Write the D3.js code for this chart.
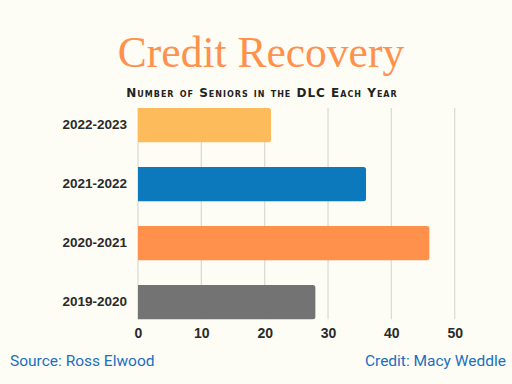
<!DOCTYPE html>
<html>
<head>
<meta charset="utf-8">
<script src="https://cdn.jsdelivr.net/npm/d3@7"></script>
<style>
  body { margin: 0; background: #fdfdf5; }
  svg { display: block; }
</style>
</head>
<body>
<script>
var years = ['2022-2023', '2021-2022', '2020-2021', '2019-2020'];
var seniors = [21, 36, 46, 28];
var barColors = ['#febb5b', '#0c79bc', '#ff914d', '#737373'];
var xTicks = [0, 10, 20, 30, 40, 50];

var svg = d3.select('body')
    .append('svg')
    .attr('width', 512)
    .attr('height', 384);

svg.append('rect')
    .attr('width', 512)
    .attr('height', 384)
    .attr('fill', '#fdfdf5');

svg.append('text')
    .attr('x', 261)
    .attr('y', 67)
    .attr('text-anchor', 'middle')
    .attr('font-family', 'Liberation Serif, serif')
    .attr('font-size', '43.5px')
    .attr('fill', '#ff914d')
    .text('Credit Recovery');

svg.append('text')
    .attr('x', 262)
    .attr('y', 96.5)
    .attr('text-anchor', 'middle')
    .attr('font-family', 'DejaVu Sans, sans-serif')
    .attr('font-size', '12px')
    .attr('font-weight', 'bold')
    .attr('font-variant', 'small-caps')
    .attr('letter-spacing', '1px')
    .attr('fill', '#222')
    .text('Number of Seniors in the DLC Each Year');

var xScale = d3.scaleLinear().domain([0, 50]).range([138, 454.7]);
var yScale = d3.scaleBand().domain(years).range([83.2, 344]).padding(0.42);

var gridTop = yScale(years[0]);
var gridBottom = yScale(years[years.length - 1]) + yScale.bandwidth();

// gridlines
svg.append('g')
    .selectAll('line')
    .data(xTicks)
    .enter()
    .append('line')
    .attr('x1', function (d) { return xScale(d); })
    .attr('x2', function (d) { return xScale(d); })
    .attr('y1', gridTop)
    .attr('y2', gridBottom)
    .attr('stroke', '#dcdcd6')
    .attr('stroke-width', 1.3);

// bars
svg.append('g')
    .selectAll('path')
    .data(years)
    .enter()
    .append('path')
    .attr('fill', function (d, i) { return barColors[i]; })
    .attr('d', function (d, i) {
        var x0 = xScale(0), x1 = xScale(seniors[i]);
        var y0 = yScale(d), h = yScale.bandwidth(), r = 2.5;
        return 'M' + x0 + ',' + y0 +
            'H' + (x1 - r) +
            'Q' + x1 + ',' + y0 + ' ' + x1 + ',' + (y0 + r) +
            'V' + (y0 + h - r) +
            'Q' + x1 + ',' + (y0 + h) + ' ' + (x1 - r) + ',' + (y0 + h) +
            'H' + x0 + 'Z';
    });

// y axis labels
var yAxis = svg.append('g')
    .attr('transform', 'translate(' + xScale(0) + ',0)')
    .call(d3.axisLeft(yScale).tickSize(0).tickPadding(11));
yAxis.select('.domain').remove();
yAxis.selectAll('text')
    .attr('font-family', 'Liberation Sans, Arial, sans-serif')
    .attr('font-size', '13.5px')
    .attr('font-weight', 'bold')
    .attr('fill', '#2a2a2a');

// x axis labels
var xAxis = svg.append('g')
    .attr('transform', 'translate(0,' + gridBottom + ')')
    .call(d3.axisBottom(xScale).tickValues(xTicks).tickSize(0).tickPadding(9));
xAxis.select('.domain').remove();
xAxis.selectAll('text')
    .attr('font-family', 'Liberation Sans, Arial, sans-serif')
    .attr('font-size', '14px')
    .attr('font-weight', 'bold')
    .attr('fill', '#2a2a2a');

svg.append('text')
    .attr('x', 10)
    .attr('y', 366)
    .attr('font-family', 'Roboto, sans-serif')
    .attr('font-size', '15.5px')
    .attr('fill', '#1a6fc0')
    .text('Source: Ross Elwood');

svg.append('text')
    .attr('x', 506)
    .attr('y', 366)
    .attr('text-anchor', 'end')
    .attr('font-family', 'Roboto, sans-serif')
    .attr('font-size', '15.5px')
    .attr('fill', '#1a6fc0')
    .text('Credit: Macy Weddle');
</script>
</body>
</html>
